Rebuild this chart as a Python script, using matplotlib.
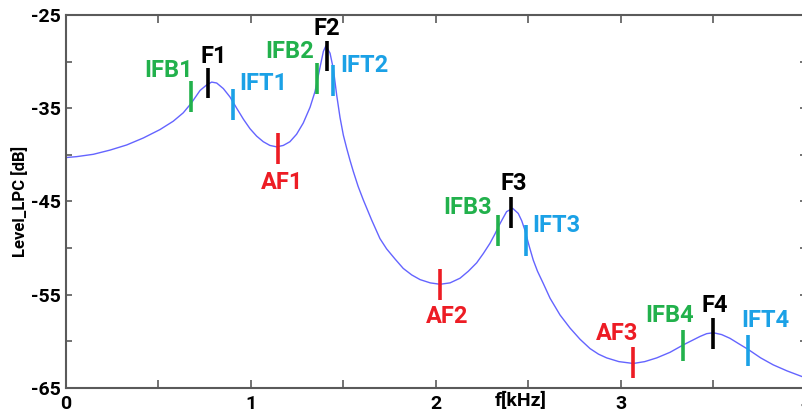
import numpy as np
import matplotlib.pyplot as plt

plt.rcParams['font.family'] = ['Roboto', 'DejaVu Sans']
plt.rcParams['axes.unicode_minus'] = False

# LPC envelope (kHz, dB)
freq_khz = [0.000, 0.058, 0.148, 0.238, 0.328, 0.418, 0.508, 0.580, 0.634, 0.676,
            0.725, 0.761, 0.788, 0.815, 0.851, 0.887, 0.923, 0.960, 0.995, 1.031,
            1.067, 1.103, 1.139, 1.175, 1.211, 1.247, 1.283, 1.320, 1.347, 1.374,
            1.392, 1.406, 1.428, 1.446, 1.464, 1.482, 1.500, 1.518, 1.536, 1.554,
            1.580, 1.608, 1.653, 1.698, 1.734, 1.780, 1.824, 1.870, 1.915, 1.970,
            2.023, 2.077, 2.131, 2.176, 2.221, 2.257, 2.293, 2.320, 2.347, 2.383,
            2.416, 2.446, 2.465, 2.482, 2.505, 2.527, 2.550, 2.581, 2.618, 2.672,
            2.726, 2.780, 2.834, 2.880, 2.924, 2.990, 3.068, 3.130, 3.195, 3.267,
            3.339, 3.429, 3.465, 3.501, 3.546, 3.591, 3.640, 3.690, 3.757, 3.825,
            3.900, 3.980]
level_db = [-40.3, -40.2, -39.95, -39.5, -38.95, -38.2, -37.3, -36.4, -35.5, -34.5,
            -33.1, -32.5, -32.2, -32.3, -32.9, -33.8, -35.0, -36.2, -37.2, -38.0,
            -38.6, -39.0, -39.15, -39.0, -38.6, -37.8, -36.6, -34.9, -33.2, -30.6,
            -28.9, -28.3, -29.1, -30.8, -33.6, -36.0, -37.9, -39.3, -40.6, -41.8,
            -43.4, -44.85, -47.0, -49.0, -50.1, -51.2, -52.2, -52.9, -53.4, -53.75,
            -53.9, -53.75, -53.25, -52.5, -51.6, -50.6, -49.5, -48.5, -47.4, -46.1,
            -45.75, -46.3, -47.1, -48.1, -49.8, -51.3, -52.5, -53.8, -55.4, -57.2,
            -58.6, -59.8, -60.8, -61.4, -61.8, -62.2, -62.4, -62.2, -61.8, -61.2,
            -60.4, -59.5, -59.2, -59.1, -59.3, -59.7, -60.3, -60.9, -61.8, -62.55,
            -63.2, -63.8]

# marked points: formants F, anti-formants AF, IFB / IFT
mark_names = ['IFB1', 'F1', 'IFT1', 'AF1', 'IFB2', 'F2', 'IFT2', 'AF2',
              'IFB3', 'F3', 'IFT3', 'AF3', 'IFB4', 'F4', 'IFT4']
mark_freq = [0.676, 0.770, 0.902, 1.148, 1.359, 1.410, 1.446, 2.023,
             2.335, 2.407, 2.488, 3.068, 3.335, 3.497, 3.690]
mark_level = [-33.7, -32.3, -34.6, -39.35, -31.8, -29.4, -32.0, -53.9,
              -48.1, -46.2, -49.2, -62.3, -60.5, -59.2, -61.0]
label_freq = [0.557, 0.798, 1.065, 1.171, 1.211, 1.409, 1.612, 2.063,
              2.171, 2.423, 2.650, 2.983, 3.264, 3.507, 3.783]
label_level = [-31.0, -29.45, -32.4, -43.0, -28.97, -26.5, -30.47, -57.4,
               -45.65, -43.13, -47.64, -59.23, -57.3, -56.22, -57.83]

def mark_color(name):
  if name.startswith('IFB'):
    return '#22b14c'
  if name.startswith('IFT'):
    return '#1ba1e6'
  if name.startswith('AF'):
    return '#ed1c24'
  return 'black'

fig = plt.figure(figsize=(8.02, 4.11), dpi=100)
ax = fig.add_axes([66 / 802, 1 - 387.7 / 411, 739.6 / 802, 372.7 / 411])

ax.plot(freq_khz, level_db, color='#6464ff', lw=1.0)

for name, f, l, tf, tl in zip(mark_names, mark_freq, mark_level, label_freq, label_level):
  c = mark_color(name)
  ax.plot([f, f], [l - 1.66, l + 1.66], color=c, lw=2.6, solid_capstyle='butt')
  ax.text(tf, tl, name, color=c, fontsize=17, fontweight='bold', ha='center', va='center')

ax.set_xlim(0, 4)
ax.set_ylim(-65, -25)
ax.set_xticks(np.arange(0, 4.01, 0.5))
ax.set_xticklabels(['0', '', '1', '', '2', '', '3', '', '4'])
ax.set_yticks(np.arange(-65, -24, 5))
ax.set_yticklabels(['-65', '', '-55', '', '-45', '', '-35', '', '-25'])

for s in ax.spines.values():
  s.set_color('#5a5a5a')
  s.set_linewidth(1.5)

ax.tick_params(axis='x', direction='in', length=6, width=1.2, color='#5a5a5a',
               top=True, pad=5, labelsize=14)
ax.tick_params(axis='y', direction='in', length=4.5, width=1.2, color='#5a5a5a',
               right=True, pad=4, labelsize=14)
for lab in ax.get_xticklabels() + ax.get_yticklabels():
  lab.set_fontweight('bold')

ax.text((521 - 66) / 739.6, -0.012, 'f[kHz]', transform=ax.transAxes, fontsize=14,
        fontweight='bold', ha='center', va='top')
ax.text((20 - 66) / 739.6, 0.5, 'Level_LPC [dB]', transform=ax.transAxes, fontsize=12,
        fontweight='bold', ha='center', va='center', rotation=90)

fig.savefig('out.png', dpi=100)
